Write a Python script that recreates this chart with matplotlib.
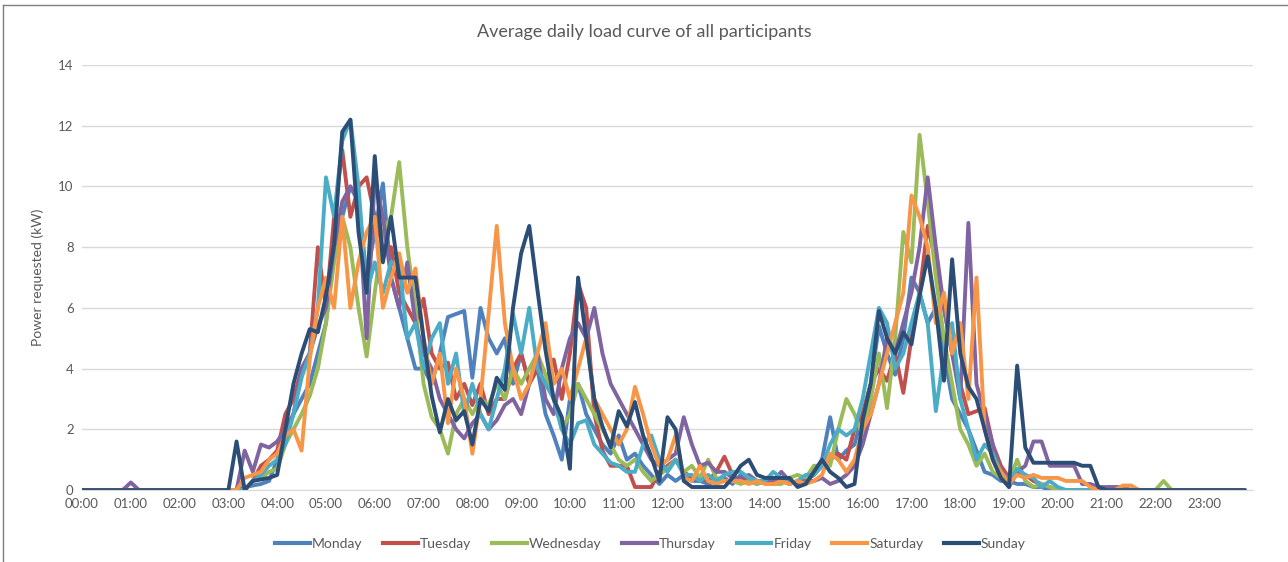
#Average daily load curve - 7 weekdays, 10-min steps
import numpy as np
import matplotlib.pyplot as plt
from matplotlib.lines import Line2D

days = ["Monday", "Tuesday", "Wednesday", "Thursday", "Friday", "Saturday", "Sunday"]
colors = ["#4F81BD", "#C0504D", "#9BBB59", "#8064A2", "#4BACC6", "#F79646", "#2C4D75"]
hour_labels = ["%02d:00" % h for h in range(24)]

# power in kW, one row per hour (:00 :10 :20 :30 :40 :50)
monday = [
    0, 0, 0, 0, 0, 0,
    0, 0, 0, 0, 0, 0,
    0, 0, 0, 0, 0, 0,
    0, 0, 0.1, 0.15, 0.2, 0.3,
    1.0, 1.8, 2.5, 3.0, 3.5, 4.5,
    5.5, 8.0, 9.0, 10.0, 9.5, 7.0,
    8.5, 10.1, 7.0, 6.0, 5.0, 4.0,
    4.0, 3.5, 4.5, 5.7, 5.8, 5.9,
    3.7, 6.0, 5.0, 4.5, 5.0, 3.5,
    4.5, 3.5, 4.0, 2.5, 1.8, 1.0,
    3.0, 3.5, 2.5, 2.0, 1.5, 1.2,
    1.8, 1.0, 1.2, 0.8, 0.5, 0.2,
    0.5, 0.3, 0.5, 0.3, 0.3, 0.2,
    0.3, 0.4, 0.2, 0.5, 0.3, 0.2,
    0.3, 0.2, 0.4, 0.3, 0.2, 0.3,
    0.5, 1.0, 2.4, 1.0, 1.3, 1.5,
    2.5, 3.5, 5.4, 4.5, 3.8, 5.0,
    7.0, 6.5, 5.5, 6.0, 4.5, 3.0,
    2.5, 2.0, 1.3, 0.6, 0.5, 0.3,
    0.3, 0.2, 0.2, 0.1, 0.1, 0,
    0, 0, 0, 0, 0, 0,
    0, 0, 0, 0, 0, 0,
    0, 0, 0, 0, 0, 0,
    0, 0, 0, 0, 0, 0,
]
tuesday = [
    0, 0, 0, 0, 0, 0,
    0, 0, 0, 0, 0, 0,
    0, 0, 0, 0, 0, 0,
    0, 0, 0, 0.3, 0.8, 1.0,
    1.3, 2.5, 3.0, 4.0, 4.5, 8.0,
    6.0, 9.0, 11.2, 9.0, 10.0, 10.3,
    9.0, 8.0, 8.0, 6.5, 6.0, 5.5,
    6.3, 4.5, 4.0, 4.2, 3.0, 3.5,
    2.8, 3.5, 2.5, 3.0, 3.0, 4.0,
    4.5, 3.5, 4.0, 3.5, 4.3, 3.0,
    4.5, 6.8, 6.0, 2.5, 1.3, 0.8,
    0.8, 0.8, 0.1, 0.1, 0.1, 0.6,
    0.8, 1.0, 0.6, 0.4, 0.4, 0.3,
    0.6, 1.1, 0.5, 0.3, 0.4, 0.3,
    0.3, 0.3, 0.3, 0.2, 0.3, 0.4,
    0.5, 0.8, 1.0, 1.2, 1.0, 2.0,
    2.5, 3.5, 4.0, 3.6, 4.5, 3.2,
    5.0, 6.5, 8.7, 7.5, 6.0, 4.5,
    3.5, 2.5, 2.6, 2.7, 1.5, 0.8,
    0.4, 0.6, 0.5, 0.3, 0.2, 0.1,
    0, 0, 0, 0, 0, 0,
    0, 0, 0, 0, 0, 0,
    0, 0, 0, 0, 0, 0,
    0, 0, 0, 0, 0, 0,
]
wednesday = [
    0, 0, 0, 0, 0, 0,
    0, 0, 0, 0, 0, 0,
    0, 0, 0, 0, 0, 0,
    0, 0, 0, 0.3, 0.4, 0.6,
    0.7, 1.5, 2.0, 2.5, 3.1, 4.0,
    5.5, 7.5, 9.0, 8.0, 6.0, 4.4,
    6.5, 8.5, 9.0, 10.8, 8.0, 6.0,
    3.5, 2.4, 2.0, 1.2, 2.5, 3.0,
    2.5, 3.0, 2.8, 3.5, 3.0, 4.0,
    3.5, 4.0, 4.5, 3.8, 3.0, 2.0,
    2.5, 3.5, 3.0, 2.5, 2.0, 1.5,
    1.0, 0.8, 1.0, 0.6, 0.3, 0.5,
    0.7, 1.0, 0.6, 0.8, 0.4, 1.0,
    0.4, 0.3, 0.3, 0.2, 0.3, 0.2,
    0.3, 0.2, 0.2, 0.4, 0.5, 0.4,
    0.8, 0.8, 0.8, 2.0, 3.0, 2.5,
    1.8, 3.0, 4.5, 2.7, 5.0, 8.5,
    7.5, 11.7, 9.5, 7.0, 5.0, 3.5,
    2.0, 1.5, 0.8, 1.2, 0.6, 0.4,
    0.3, 1.0, 0.3, 0.1, 0.2, 0.1,
    0, 0, 0, 0, 0, 0,
    0, 0, 0, 0, 0, 0,
    0, 0.3, 0, 0, 0, 0,
    0, 0, 0, 0, 0, 0,
]
thursday = [
    0, 0, 0, 0, 0, 0,
    0.25, 0, 0, 0, 0, 0,
    0, 0, 0, 0, 0, 0,
    0, 0, 1.3, 0.6, 1.5, 1.4,
    1.6, 2.0, 2.5, 4.0, 4.5, 5.4,
    6.0, 8.0, 9.5, 10.0, 9.5, 5.0,
    10.3, 9.0, 7.0, 6.0, 7.5, 5.5,
    4.5, 4.0, 3.0, 2.5, 2.0, 1.7,
    2.2, 2.5, 2.0, 2.3, 2.8, 3.0,
    2.5, 3.5, 4.5, 3.0, 2.5, 4.0,
    5.0, 5.5, 5.0, 6.0, 4.5, 3.5,
    3.0, 2.5, 2.0, 1.5, 1.0, 0.8,
    1.0, 1.2, 2.4, 1.5, 0.8, 0.9,
    0.6, 0.6, 0.4, 0.4, 0.5, 0.3,
    0.3, 0.3, 0.6, 0.3, 0.2, 0.3,
    0.3, 0.4, 0.2, 0.3, 0.5, 0.8,
    1.5, 2.5, 3.5, 5.0, 4.5, 5.5,
    6.5, 8.0, 10.3, 8.0, 6.0, 4.5,
    3.0, 8.8, 3.5, 2.5, 1.5, 0.5,
    0.1, 0.6, 0.8, 1.6, 1.6, 0.8,
    0.8, 0.8, 0.8, 0.2, 0.2, 0.1,
    0.1, 0.1, 0.1, 0, 0, 0,
    0, 0, 0, 0, 0, 0,
    0, 0, 0, 0, 0, 0,
]
friday = [
    0, 0, 0, 0, 0, 0,
    0, 0, 0, 0, 0, 0,
    0, 0, 0, 0, 0, 0,
    0, 0, 0, 0.3, 0.5, 0.8,
    1.0, 1.5, 2.5, 3.7, 4.5, 6.0,
    10.3, 9.0, 11.5, 12.2, 10.0, 6.5,
    7.5, 6.5, 7.5, 7.5, 5.0, 5.5,
    4.0, 5.0, 5.5, 3.5, 4.5, 2.5,
    3.5, 2.5, 2.0, 3.0, 4.0, 5.8,
    4.5, 6.0, 4.0, 3.5, 3.0, 2.0,
    1.5, 2.2, 2.3, 1.5, 1.2, 0.9,
    0.8, 0.6, 0.6, 1.5, 1.8, 1.0,
    0.6, 1.0, 0.5, 0.5, 0.3, 0.5,
    0.3, 0.5, 0.6, 0.6, 0.4, 0.3,
    0.3, 0.6, 0.4, 0.2, 0.3, 0.5,
    0.5, 0.8, 1.5, 2.0, 1.8, 2.0,
    3.0, 4.5, 6.0, 5.5, 4.0, 4.5,
    5.5, 6.5, 5.5, 2.6, 4.5, 5.5,
    3.0, 2.0, 1.0, 1.5, 1.2, 0.6,
    0.3, 0.7, 0.5, 0.4, 0.1, 0.3,
    0.1, 0, 0, 0, 0, 0,
    0, 0, 0, 0, 0, 0,
    0, 0, 0, 0, 0, 0,
    0, 0, 0, 0, 0, 0,
]
saturday = [
    0, 0, 0, 0, 0, 0,
    0, 0, 0, 0, 0, 0,
    0, 0, 0, 0, 0, 0,
    0, 0, 0.4, 0.5, 0.6, 1.0,
    1.2, 1.8, 2.0, 1.3, 4.3, 6.0,
    7.0, 6.0, 9.0, 6.0, 7.5, 8.5,
    9.0, 6.0, 7.0, 7.8, 6.5, 7.3,
    5.0, 3.5, 4.5, 2.2, 4.0, 3.0,
    1.2, 3.0, 5.8, 8.7, 5.5, 4.0,
    3.0, 3.5, 4.5, 5.5, 3.5, 4.0,
    3.0, 4.0, 5.0, 3.0, 2.5, 2.0,
    1.5, 2.0, 3.4, 2.5, 1.5, 0.8,
    1.0, 1.8, 0.4, 0.3, 0.8, 0.3,
    0.2, 0.3, 0.3, 0.3, 0.2, 0.3,
    0.2, 0.2, 0.3, 0.2, 0.3, 0.2,
    0.3, 0.5, 1.2, 1.0, 0.6, 1.0,
    2.0, 2.5, 3.5, 4.5, 5.5, 6.5,
    9.7, 9.0, 8.0, 5.5, 6.5, 4.5,
    5.5, 3.0, 7.0, 2.0, 1.0, 0.6,
    0.2, 0.5, 0.4, 0.5, 0.4, 0.4,
    0.4, 0.3, 0.3, 0.3, 0.1, 0,
    0, 0, 0.15, 0.15, 0, 0,
    0, 0, 0, 0, 0, 0,
    0, 0, 0, 0, 0, 0,
]
sunday = [
    0, 0, 0, 0, 0, 0,
    0, 0, 0, 0, 0, 0,
    0, 0, 0, 0, 0, 0,
    0, 1.6, 0, 0.3, 0.35, 0.4,
    0.5, 2.0, 3.5, 4.5, 5.3, 5.2,
    6.4, 8.1, 11.8, 12.2, 8.5, 6.5,
    11.0, 7.5, 9.0, 7.0, 7.0, 7.0,
    5.0, 3.1, 1.9, 3.0, 2.3, 2.6,
    1.5, 3.0, 2.6, 3.7, 3.3, 6.0,
    7.8, 8.7, 6.6, 4.6, 3.0, 2.4,
    0.7, 7.0, 5.0, 3.0, 2.1, 1.4,
    2.6, 2.1, 2.9, 1.8, 1.1, 0.3,
    2.4, 2.0, 0.3, 0.1, 0.1, 0.1,
    0.1, 0.1, 0.4, 0.8, 1.0, 0.5,
    0.4, 0.4, 0.4, 0.4, 0.1, 0.2,
    0.6, 1.0, 0.6, 0.4, 0.1, 0.2,
    2.3, 3.5, 5.9, 5.0, 4.5, 5.2,
    4.8, 6.4, 7.7, 6.0, 3.6, 7.6,
    4.5, 3.4, 3.0, 2.0, 1.0, 0.4,
    0.1, 4.1, 1.4, 0.9, 0.9, 0.9,
    0.9, 0.9, 0.9, 0.8, 0.8, 0.1,
    0, 0, 0, 0, 0, 0,
    0, 0, 0, 0, 0, 0,
    0, 0, 0, 0, 0, 0,
]
series = [monday, tuesday, wednesday, thursday, friday, saturday, sunday]

grey = "#595959"
plt.rcParams['font.family'] = ['Lato', 'DejaVu Sans']

fig = plt.figure(figsize=(12.88, 5.62), dpi=100)
ax = fig.add_axes([0.0637, 0.128, 0.9091, 0.7563])

t = np.arange(144) / 6.0  # hours
for name, vals, c in zip(days, series, colors):
    ax.plot(t, vals, color=c, lw=2.8, label=name,
            solid_joinstyle='round', solid_capstyle='round')

ax.set_xlim(0, 24)
ax.set_ylim(0, 14)
ax.set_yticks(range(0, 15, 2))
ax.set_xticks(range(24))
ax.set_xticklabels(hour_labels)
ax.tick_params(axis='both', length=0, labelsize=9.5, colors=grey, pad=6)
ax.grid(axis='y', color='#D9D9D9', lw=1)
ax.set_axisbelow(True)
for s in ['top', 'right', 'left']:
    ax.spines[s].set_visible(False)
ax.spines['bottom'].set_color('#D9D9D9')

ax.set_ylabel('Power requested (kW)', fontsize=10, color=grey, labelpad=10)
fig.suptitle('Average daily load curve of all participants', fontsize=13, color=grey, y=0.958)

handles = [Line2D([], [], color=c, lw=3) for c in colors]
fig.legend(handles, days, loc='center', bbox_to_anchor=(0.505, 0.032), ncol=7, frameon=False,
           fontsize=10, handlelength=2.5, handletextpad=0.15, columnspacing=1.5, labelcolor=grey)

# chart border (left and top edge as in the screenshot)
fig.add_artist(Line2D([0.0025, 0.0025], [0, 0.991], color='#7F7F7F', lw=1, transform=fig.transFigure))
fig.add_artist(Line2D([0.0025, 1], [0.991, 0.991], color='#7F7F7F', lw=1, transform=fig.transFigure))

plt.savefig('out.png')
